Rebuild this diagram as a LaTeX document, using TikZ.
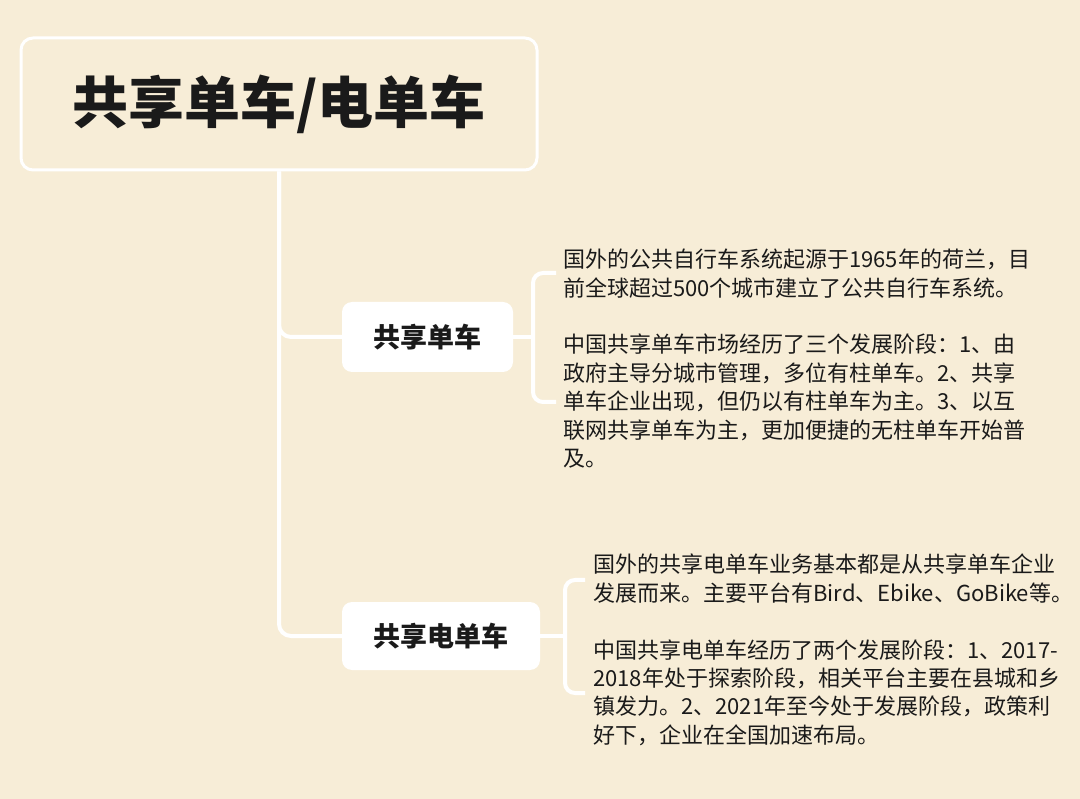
\documentclass[tikz,border=0pt]{standalone}
\usepackage{fontspec}
\setmainfont{Noto Sans CJK SC}
\definecolor{bg}{RGB}{247,237,215}
\definecolor{ink}{RGB}{26,26,26}
\begin{document}
\begin{tikzpicture}[x=1pt,y=-1pt,
  conn/.style={draw=white, line width=4pt, rounded corners=12pt},
  topicbox/.style={fill=white, rounded corners=10pt, inner sep=0pt, font=\fontsize{27}{32}\selectfont\bfseries, text=ink},
  desc/.style={anchor=north west, inner sep=0pt, align=left, font=\fontsize{22}{28.4}\selectfont, text=ink}]
\fill[bg] (0,0) rectangle (1080,799);
\useasboundingbox (0,0) rectangle (1080,799);
% title
\node[draw=white, line width=3pt, fill=bg, rounded corners=12pt, minimum width=516pt, minimum height=132pt, inner sep=0pt, font=\fontsize{56}{60}\selectfont\bfseries, text=ink] (title) at (279,104) {共享单车/电单车};
% topics
\node[topicbox, minimum width=171pt, minimum height=70pt] (n1) at (427.5,337) {共享单车};
\node[topicbox, minimum width=198pt, minimum height=68pt] (n2) at (441,636) {共享电单车};
% trunk
\draw[conn] (title.south) -- (title.south |- n1.west) -- (n1.west);
\draw[conn] (title.south) -- (title.south |- n2.west) -- (n2.west);
% bracket 1
\coordinate (b1top) at (556,273);
\coordinate (b1bot) at (556,402);
\coordinate (b1x) at (533,337);
\draw[conn, rounded corners=10pt] (b1top) -- (b1top -| b1x) -- (b1bot -| b1x) -- (b1bot);
\draw[conn] (n1.east) -- (b1x);
% bracket 2
\coordinate (b2top) at (585,580);
\coordinate (b2bot) at (585,693);
\coordinate (b2x) at (565,636);
\draw[conn, rounded corners=10pt] (b2top) -- (b2top -| b2x) -- (b2bot -| b2x) -- (b2bot);
\draw[conn] (n2.east) -- (b2x);
% descriptions
\node[desc] (t1) at (563,249) {国外的公共自行车系统起源于1965年的荷兰，目\\前全球超过500个城市建立了公共自行车系统。\\[28.4pt]中国共享单车市场经历了三个发展阶段：1、由\\政府主导分城市管理，多位有柱单车。2、共享\\单车企业出现，但仍以有柱单车为主。3、以互\\联网共享单车为主，更加便捷的无柱单车开始普\\及。};
\node[desc] (t2) at (593,554) {国外的共享电单车业务基本都是从共享单车企业\\发展而来。主要平台有Bird、Ebike、GoBike等。\\[28.4pt]中国共享电单车经历了两个发展阶段：1、2017-\\2018年处于探索阶段，相关平台主要在县城和乡\\镇发力。2、2021年至今处于发展阶段，政策利\\好下，企业在全国加速布局。};
\end{tikzpicture}
\end{document}
